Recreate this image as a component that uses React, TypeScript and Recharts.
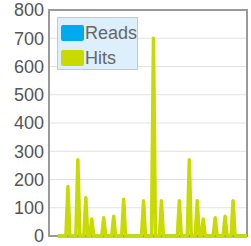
import { LineChart, Line, CartesianGrid, XAxis, YAxis, ReferenceArea } from "recharts";

// one sample per slot (mostly zero with spikes)
const hits = [
  0, 0, 0, 0, 0, 175, 0, 0, 0, 0,
  270, 0, 0, 0, 135, 0, 0, 60, 0, 0,
  0, 0, 0, 65, 0, 0, 0, 0, 70, 0,
  0, 0, 0, 130, 0, 0, 0, 0, 0, 0,
  0, 0, 0, 125, 0, 0, 0, 0, 700, 0,
  0, 0, 125, 0, 0, 0, 0, 0, 0, 0,
  0, 125, 0, 0, 0, 0, 270, 0, 0, 0,
  125, 0, 0, 60, 0, 0, 0, 0, 0, 65,
  0, 0, 0, 0, 70, 0, 0, 0, 125, 0,
  0, 0, 0, 0, 0, 0,
];

const reads = [
  0, 0, 0, 0, 0, 0, 0, 0, 0, 0,
  0, 0, 0, 0, 0, 0, 0, 0, 0, 0,
  0, 0, 0, 0, 0, 0, 0, 0, 0, 0,
  0, 0, 0, 0, 0, 0, 0, 0, 0, 0,
  0, 0, 0, 0, 0, 0, 0, 0, 0, 0,
  0, 0, 0, 0, 0, 0, 0, 0, 0, 0,
  0, 0, 0, 0, 0, 0, 0, 0, 0, 0,
  0, 0, 0, 0, 0, 0, 0, 0, 0, 0,
  0, 0, 0, 0, 0, 0, 0, 0, 0, 0,
  0, 0, 0, 0, 0, 0,
];

const yTicks = [0, 100, 200, 300, 400, 500, 600, 700, 800];

const seriesNames = { reads: "Reads", hits: "Hits" };
const READS_COLOR = "#00aaee";
const HITS_COLOR = "#c8da00";
const FONT = '"Liberation Sans", Arial, Helvetica, sans-serif';

const chartData = hits.map((h, i) => ({ slot: i, hits: h, reads: reads[i] }));

function LegendBox() {
  const items = [
    { label: seriesNames.reads, color: READS_COLOR },
    { label: seriesNames.hits, color: HITS_COLOR },
  ];
  return (
    <div
      style={{
        position: "absolute",
        left: 57,
        top: 17,
        background: "#ddeefd",
        border: "1px solid #c8c8c8",
        width: 81,
        height: 53,
        boxSizing: "border-box",
        padding: "2px 0 0 3px",
        fontFamily: FONT,
        fontSize: 18,
        color: "#666",
      }}
    >
      {items.map((it) => (
        <div key={it.label} style={{ display: "flex", alignItems: "center", height: 25, lineHeight: "18px" }}>
          <span style={{ display: "inline-block", width: 23, height: 16, background: it.color, borderRadius: 2, marginRight: 1 }} />
          <span>{it.label}</span>
        </div>
      ))}
    </div>
  );
}

export default function App() {
  return (
    <div style={{ position: "absolute", left: 0, top: 0, width: 251, height: 246, background: "#fff" }}>
      <LineChart width={251} height={246} data={chartData} margin={{ top: 10, right: 4, bottom: 10, left: 0 }}>
        <CartesianGrid vertical={false} stroke="#e2e2e2" strokeWidth={1} />
        <XAxis dataKey="slot" type="number" domain={[-4.5, 95]} hide />
        <YAxis
          domain={[0, 800]}
          ticks={yTicks}
          width={49}
          axisLine={false}
          tickLine={false}
          tickSize={5}
          tickMargin={0}
          interval={0}
          tick={{ fill: "#555", fontSize: 18, fontFamily: FONT }}
        />
        <ReferenceArea x1={-4.5} x2={95} y1={0} y2={800} fill="none" stroke="#9a9a9a" strokeWidth={2} />
        <Line
          type="linear"
          dataKey="reads"
          stroke={READS_COLOR}
          strokeWidth={3}
          dot={false}
          isAnimationActive={false}
        />
        <Line
          type="linear"
          dataKey="hits"
          stroke={HITS_COLOR}
          strokeWidth={3.5}
          strokeLinejoin="round"
          dot={false}
          isAnimationActive={false}
        />
      </LineChart>
      <LegendBox />
    </div>
  );
}
